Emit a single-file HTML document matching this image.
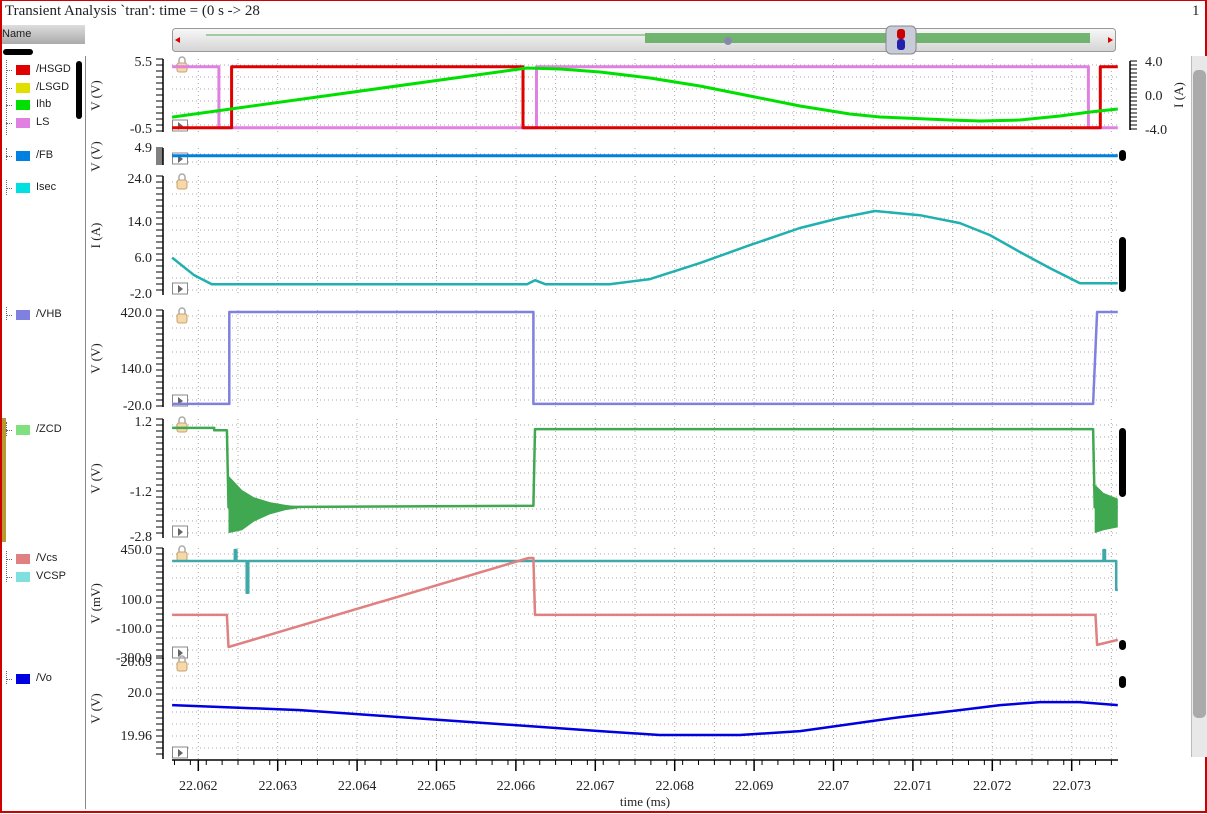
<!DOCTYPE html>
<html><head><meta charset="utf-8">
<style>
body{margin:0;width:1207px;height:814px;overflow:hidden;background:#fff;font-family:"Liberation Serif",serif;}
#frame{position:absolute;left:0;top:0;width:1203px;height:810px;border:2px solid #d00000;border-top-width:1px;}
.li{position:absolute;left:16px;font:11px "Liberation Sans",sans-serif;color:#222;}
.sw{position:absolute;left:16px;width:14px;height:10px;}
</style></head><body>
<div id="frame"></div>
<div style="position:absolute;left:5px;top:3px;font-size:15px;color:#222">Transient Analysis `tran': time = (0 s -&gt; 28</div>
<div style="position:absolute;left:1192px;top:3px;font-size:15px;color:#222">1</div>
<div style="position:absolute;left:2px;top:25px;width:83px;height:19px;background:linear-gradient(#ddd,#aaa);font:11px 'Liberation Sans',sans-serif;line-height:19px;color:#222">Name</div>
<div style="position:absolute;left:3px;top:49px;width:30px;height:6px;background:#000;border-radius:3px"></div>
<div style="position:absolute;left:85px;top:56px;width:1px;height:753px;background:#888"></div>
<div id="legend"></div>
<div style="position:absolute;left:1191px;top:56px;width:15px;height:701px;background:#e8e8e8;border-left:1px solid #bbb">
<div style="position:absolute;left:1px;top:14px;width:13px;height:648px;background:#aaa;border-radius:5px"></div></div>
<div style="position:absolute;left:2px;top:418px;width:4px;height:124px;background:#b89a30"></div>
<svg id="svg" width="1207" height="814" style="position:absolute;left:0;top:0"></svg>
<script>
// ---- data ----
const tStart=22.06167, tEnd=22.07358;
const hsgdT=[tStart,22.06242,22.06242,22.06609,22.06609,22.07336,22.07336,tEnd];
const hsgdV=[-0.3,-0.3,5.0,5.0,-0.3,-0.3,5.0,5.0];
const lsT=[tStart,22.06226,22.06226,22.06626,22.06626,22.07321,22.07321,tEnd];
const lsV=[5.0,5.0,-0.3,-0.3,5.0,5.0,-0.3,-0.3];
const ihbT=[tStart,22.06614,22.066555,22.067059,22.067689,22.068318,22.068948,22.069578,22.070207,22.070585,22.071467,22.071845,22.072348,22.072852,22.07323,tEnd];
const ihbV=[-2.6,3.18,3.06,2.7,2.0,1.06,-0.12,-1.29,-2.24,-2.59,-2.94,-3.06,-2.94,-2.47,-2.0,-1.65];
const fbT=[tStart,tEnd]; const fbV=[4.55,4.55];
const isecT=[tStart,22.06195,22.06217,22.06614,22.06624,22.06637,22.06718,22.067689,22.068318,22.068948,22.069578,22.07008,22.070522,22.071088,22.071592,22.07197,22.072348,22.072726,22.073104,tEnd];
const isecV=[6.0,2.0,0.0,0.0,0.9,0.0,0.0,1.15,4.77,8.84,12.69,14.95,16.53,15.6,13.8,11.1,7.26,3.64,0.2,0.2];
const vhbT=[tStart,22.06239,22.06239,22.06622,22.06622,22.07327,22.07332,tEnd];
const vhbV=[-15,-15,420,420,-15,-15,420,420];
const zcdT=[tStart,22.0622,22.0622,22.06236,22.06238,22.06622,22.06624,22.07327,22.07329,tEnd];
const zcdV=[0.96,0.96,0.88,0.88,-1.8,-1.75,0.92,0.92,-1.8,-1.8];
const ringT=[22.06238,22.06255,22.0627,22.0629,22.0631,22.0633];
const ringHi=[-0.7,-1.2,-1.45,-1.62,-1.72,-1.78];
const ringLo=[-2.7,-2.6,-2.3,-2.05,-1.9,-1.82];
const ring2T=[22.07329,22.0734,tEnd];
const ring2Hi=[-1.0,-1.3,-1.5];
const ring2Lo=[-2.7,-2.6,-2.5];
const vcsT=[tStart,22.06236,22.06238,22.06616,22.06622,22.06624,22.07330,22.07332,tEnd];
const vcsV=[-5,-5,-230,394,394,-5,-5,-215,-180];
const vcspT=[tStart,22.06246,22.06246,22.06248,22.06248,22.06261,22.06261,22.06263,22.06263,22.07340,22.07340,22.07342,22.07342,22.07356,22.07356,tEnd];
const vcspV=[373,373,450,450,373,373,150,150,373,373,450,450,373,373,170,170];
const voT=[tStart,22.063281,22.06454,22.0658,22.06706,22.06781,22.06882,22.06958,22.07021,22.07084,22.07159,22.0721,22.0726,22.0731,tEnd];
const voV=[19.9879,19.9833,19.9767,19.9702,19.9637,19.96,19.96,19.9637,19.9702,19.9767,19.9833,19.9879,19.9907,19.9907,19.9879];
const xTicks=[22.062,22.063,22.064,22.065,22.066,22.067,22.068,22.069,22.07,22.071,22.072,22.073];
const xTickLabels=["22.062","22.063","22.064","22.065","22.066","22.067","22.068","22.069","22.07","22.071","22.072","22.073"];
// ---- axes ----
const X=t=>198.3+(t-22.062)*79400;
const panels=[
 {y0:61,y1:130,vT:5.5,vB:-0.5,lab:"V (V)",ticks:[["5.5",61],["-0.5",128]]},
 {y0:148,y1:165,vT:5,vB:4,lab:"V (V)",ticks:[["4.9",147]]},
 {y0:178,y1:293,vT:24,vB:-2,lab:"I (A)",ticks:[["24.0",178],["14.0",221],["6.0",257],["-2.0",293]]},
 {y0:312,y1:405,vT:420,vB:-20,lab:"V (V)",ticks:[["420.0",312],["140.0",368],["-20.0",405]]},
 {y0:421,y1:536,vT:1.2,vB:-2.8,lab:"V (V)",ticks:[["1.2",421],["-1.2",491],["-2.8",536]]},
 {y0:550,y1:657,vT:450,vB:-300,lab:"V (mV)",ticks:[["450.0",549],["100.0",599],["-100.0",628],["-300.0",657]]},
 {y0:660,y1:757,vT:20.03,vB:19.9395,lab:"V (V)",ticks:[["20.03",661],["20.0",692],["19.96",735]]}
];
const Y=(p,v)=>p.y0+(p.vT-v)/(p.vT-p.vB)*(p.y1-p.y0);
const YR=v=>61+(4-v)/8*68;
const svg=document.getElementById('svg');const NS="http://www.w3.org/2000/svg";
function mk(tag,at,parent){const e=document.createElementNS(NS,tag);for(const k in at)e.setAttribute(k,at[k]);(parent||svg).appendChild(e);return e;}
const xL=172,xR=1118;
panels.forEach((p,i)=>{
 const g=mk('g',{});
 
 
 let top=i==1?148:p.y0-2,bot=i==1?165:p.y1+2;
 for(let t=22.0615;t<=22.0736;t+=0.0005){const x=X(t);if(x<xL||x>xR)continue;mk('line',{x1:x,x2:x,y1:top,y2:bot,stroke:'#aaa','stroke-dasharray':'1,3'},g);}
 const step=i==1?8:12;
 for(let y=top+6;y<bot;y+=step) mk('line',{x1:xL,x2:xR,y1:y,y2:y,stroke:'#aaa','stroke-dasharray':'1,3'},g);
 mk('line',{x1:163,x2:163,y1:top,y2:bot,stroke:'#000','stroke-width':1.5},g);
 const ts=i==1?2:6;
 for(let y=top;y<=bot;y+=ts) mk('line',{x1:156,x2:163,y1:y,y2:y,stroke:'#000','stroke-width':1},g);
 p.ticks.forEach(([s,y])=>{const tx=mk('text',{x:152,y:y+5,'text-anchor':'end','font-size':14,fill:'#222','font-family':'Liberation Serif,serif'},g);tx.textContent=s;});
 const cy=(top+bot)/2;
 const al=mk('text',{x:100,y:cy,'text-anchor':'middle','font-size':13,fill:'#222',transform:`rotate(-90 100 ${cy})`,'font-family':'Liberation Serif,serif'},g);al.textContent=p.lab;
 
 
 if(i!=1){mk('rect',{x:177,y:p.y0+2,width:10,height:9,rx:2,fill:'#f5d9a8',stroke:'#c9a070'},g);mk('path',{d:`M179 ${p.y0+2} v-3 a3 3 0 0 1 6 0 v3`,fill:'none',stroke:'#aaa','stroke-width':1.5},g);}
 mk('rect',{x:172.5,y:bot-12,width:15,height:11,fill:'#fff',stroke:'#888'},g);
 mk('path',{d:`M178 ${bot-10} l5 4 l-5 4z`,fill:'#666'},g);
});
// right axis top panel
mk('line',{x1:1130,x2:1130,y1:61,y2:130,stroke:'#000','stroke-width':1.5});
for(let y=61;y<=130;y+=4)mk('line',{x1:1130,x2:1137,y1:y,y2:y,stroke:'#000'});
[["4.0",4],["0.0",0],["-4.0",-4]].forEach(([s,v])=>{const t=mk('text',{x:1145,y:YR(v)+5,'font-size':14,fill:'#222','font-family':'Liberation Serif,serif'});t.textContent=s;});
const rl=mk('text',{x:1183,y:95,'text-anchor':'middle','font-size':13,fill:'#222',transform:'rotate(-90 1183 95)','font-family':'Liberation Serif,serif'});rl.textContent="I (A)";
// x axis
mk('line',{x1:xL,x2:xR,y1:760,y2:760,stroke:'#000','stroke-width':1.5});
for(let t=22.0617;t<=22.0736;t+=0.0002){const x=X(t);mk('line',{x1:x,x2:x,y1:760,y2:765,stroke:'#000'});}
xTicks.forEach((t,k)=>{const x=X(t);mk('line',{x1:x,x2:x,y1:760,y2:771,stroke:'#000','stroke-width':1.5});
 const tx=mk('text',{x:x,y:790,'text-anchor':'middle','font-size':14,fill:'#222','font-family':'Liberation Serif,serif'});tx.textContent=xTickLabels[k];
 
 });
const xt=mk('text',{x:645,y:806,'text-anchor':'middle','font-size':13,fill:'#222','font-family':'Liberation Serif,serif'});xt.textContent="time (ms)";


// traces
function trace(T,V,yf,col,w,name){const d=T.map((t,k)=>(k?'L':'M')+X(t).toFixed(1)+' '+yf(V[k]).toFixed(1)).join(' ');
 const e=mk('path',{d:d,fill:'none',stroke:col,'stroke-width':w,'stroke-linejoin':'round'});
 
 }
function band(T,H,L,yf,col,name){const pts=T.map((t,k)=>X(t).toFixed(1)+','+yf(H[k]).toFixed(1)).concat(T.map((t,k)=>X(t).toFixed(1)+','+yf(L[k]).toFixed(1)).reverse());
 const e=mk('polygon',{points:pts.join(' '),fill:col});
 
 }
const P=panels;
trace(lsT,lsV,v=>Y(P[0],v),'#e080e0',3,'trace-ls');
trace(hsgdT,hsgdV,v=>Y(P[0],v),'#e00000',3,'trace-hsgd');
trace(ihbT,ihbV,YR,'#00e000',3,'trace-ihb');
trace(fbT,fbV,v=>Y(P[1],v),'#0080e0',3,'trace-fb');
trace(isecT,isecV,v=>Y(P[2],v),'#20b0b0',2.5,'trace-isec');
trace(vhbT,vhbV,v=>Y(P[3],v),'#8080e0',2.5,'trace-vhb');
trace(zcdT,zcdV,v=>Y(P[4],v),'#40a850',2.5,'trace-zcd');
band(ringT,ringHi,ringLo,v=>Y(P[4],v),'#40a850','zcd-ringing-1');
band(ring2T,ring2Hi,ring2Lo,v=>Y(P[4],v),'#40a850','zcd-ringing-2');
trace(vcspT,vcspV,v=>Y(P[5],v),'#40a8a8',2.5,'trace-vcsp');
trace(vcsT,vcsV,v=>Y(P[5],v),'#e08080',2.5,'trace-vcs');
trace(voT,voV,v=>Y(P[6],v),'#0000e0',2.5,'trace-vo');
// right-side black scroll indicators
[[150,161],[237,292],[428,497],[640,650],[676,688]].forEach(([a,b])=>{const e=mk('rect',{x:1119,y:a,width:7,height:b-a,rx:3.5,fill:'#000'});
 
 });
mk('rect',{x:76,y:61,width:6,height:58,rx:3,fill:'#000'});
// horizontal overview scrollbar
const sb=mk('g',{});


const gr=mk('linearGradient',{id:'sg',x1:0,y1:0,x2:0,y2:1},mk('defs',{}));mk('stop',{offset:0,'stop-color':'#f8f8f8'},gr);mk('stop',{offset:1,'stop-color':'#d4d4d4'},gr);
mk('rect',{x:172.5,y:28.5,width:943,height:23,rx:3,fill:'url(#sg)',stroke:'#999'},sb);
mk('line',{x1:206,x2:645,y1:35,y2:35,stroke:'#5a5',},sb);
mk('rect',{x:645,y:33,width:445,height:10,fill:'#5aaa5a',opacity:0.85},sb);
mk('path',{d:'M175 40 l5 -3 v6z',fill:'#d00'},sb);mk('path',{d:'M1113 40 l-5 -3 v6z',fill:'#d00'},sb);
mk('circle',{cx:728,cy:41,r:4,fill:'#88a'},sb);
mk('rect',{x:886,y:26,width:30,height:28,rx:5,fill:'#c8ccd8',stroke:'#888'},sb);
mk('rect',{x:897,y:29,width:8,height:10,rx:3,fill:'#c00'},sb);mk('rect',{x:897,y:39,width:8,height:11,rx:3,fill:'#22a'},sb);
// legend
const items=[["/HSGD","#e00000",70],["/LSGD","#e0e000",88],["Ihb","#00e000",105],["LS","#e080e0",123],["/FB","#0080e0",156],["Isec","#00e0e0",188],["/VHB","#8080e0",315],["/ZCD","#80e080",430],["/Vcs","#e08080",559],["VCSP","#80e0e0",577],["/Vo","#0000e0",679]];
const lg=document.getElementById('legend');
items.forEach(([n,c,y])=>{const d=document.createElement('div');
 
 
 d.innerHTML=`<div class="sw" style="top:${y-5}px;background:${c}"></div><div class="li" style="left:36px;top:${y-7}px">${n}</div><div style="position:absolute;left:6px;top:${y}px;width:6px;border-top:1px dotted #666"></div>`;
 lg.appendChild(d);});
[[60,135],[148,160],[180,195],[307,320],[422,436],[551,582],[671,684]].forEach(([a,b])=>{const d=document.createElement('div');d.style.cssText=`position:absolute;left:6px;top:${a}px;height:${b-a}px;border-left:1px dotted #666`;lg.appendChild(d);});
</script>
</body></html>
